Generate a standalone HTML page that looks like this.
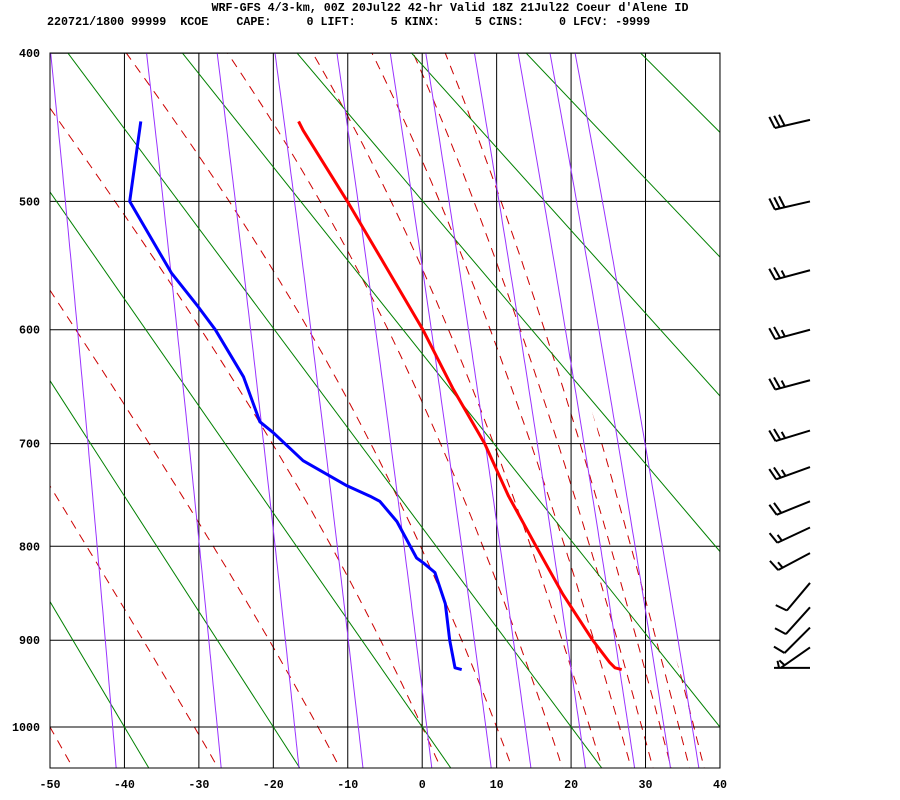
<!DOCTYPE html>
<html><head><meta charset="utf-8"><style>
html,body{margin:0;padding:0;background:#fff;}
svg{display:block;}
text{font-family:"Liberation Mono",monospace;font-weight:bold;font-size:11.7px;fill:#000;}
</style></head><body>
<svg id="chart" width="900" height="800" xmlns="http://www.w3.org/2000/svg">
<defs>
<clipPath id="plotclip"><rect x="50" y="53" width="670" height="715"/></clipPath>
<clipPath id="moistclip"><polygon points="50,53 470,53 720,789 720,768 50,768"/></clipPath>
</defs>
<text x="450" y="11" text-anchor="middle" xml:space="preserve">WRF-GFS 4/3-km, 00Z 20Jul22 42-hr Valid 18Z 21Jul22 Coeur d'Alene ID</text>
<text x="47" y="25" xml:space="preserve">220721/1800 99999  KCOE    CAPE:     0 LIFT:     5 KINX:     5 CINS:     0 LFCV: -9999</text>
<g id="plot" clip-path="url(#plotclip)">
<g id="moist" clip-path="url(#moistclip)"></g>
</g>
<g id="axes"></g>
<g id="barbs"></g>
</svg>
<script>
// ---- data ----
const pressureTicks = [400, 500, 600, 700, 800, 900, 1000];
const tempTicks = [-50, -40, -30, -20, -10, 0, 10, 20, 30, 40];
const tempP = [444, 450, 500, 550, 600, 650, 700, 750, 800, 850, 900, 925, 931, 933];
const tempT = [-16.6, -16.0, -10.05, -4.8, 0.1, 4.1, 8.4, 11.6, 15.3, 18.9, 22.9, 25.2, 25.9, 26.8];
const dewP = [444, 500, 554, 581, 600, 640, 680, 690, 716, 740, 750, 755, 775, 812, 817, 827, 860, 900, 931, 933];
const dewT = [-37.8, -39.3, -33.7, -30.1, -27.8, -24.0, -21.8, -20.0, -16.0, -10.1, -7.0, -5.7, -3.4, -0.75, 0.15, 1.7, 3.1, 3.7, 4.4, 5.3];
const barbP = [443, 500, 552, 600, 643, 688, 722, 755, 781, 807, 838, 864, 886, 908, 931];
const barbDir = [257, 257, 255, 255, 255, 253, 250, 248, 245, 242, 220, 222, 225, 235, 270];
const barbSpd = [30, 30, 25, 25, 25, 25, 25, 20, 15, 15, 10, 10, 10, 5, 5];
const dryTheta = [193.15, 213.15, 233.15, 253.15, 273.15, 293.15, 313.15, 333.15, 353.15, 373.15, 393.15, 413.15, 433.15, 453.15, 473.15];
const mixRatios = [0.1, 0.4, 1, 2, 4, 7, 10, 16, 24, 32, 40];
const moistT1000 = [-50, -30.6, -14, 0, 10, 17, 22.5, 26.5, 29.5, 32, 34.5, 36.5, 38.5];

// ---- scales ----
const K = 0.286;
const P0K = Math.pow(1000, K);
function xT(t){ return 50 + (t + 50) * 7.444; }
function yP(p){ return 727 - 405.3 * (P0K - Math.pow(p, K)); }
const NS = "http://www.w3.org/2000/svg";
const plot = document.getElementById('plot');
const moistG = document.getElementById('moist');
const axes = document.getElementById('axes');
const barbs = document.getElementById('barbs');
function mk(tag, attrs, parent){
  const e = document.createElementNS(NS, tag);
  for (const k in attrs) e.setAttribute(k, attrs[k]);
  parent.appendChild(e);
  return e;
}
function pathFrom(pts){ return pts.map((q,i)=>(i?'L':'M')+q[0].toFixed(1)+','+q[1].toFixed(1)).join(''); }
const pressRange = [];
for (let p = 1060; p >= 390; p -= 5) pressRange.push(p);

// isotherms
tempTicks.forEach(t => {
  const l = mk('line', {x1:xT(t), y1:53, x2:xT(t), y2:768, stroke:'#000', 'stroke-width':1}, plot);
  
  
});
// isobars
pressureTicks.forEach(p => {
  const l = mk('line', {x1:50, y1:yP(p), x2:720, y2:yP(p), stroke:'#000', 'stroke-width':1}, plot);
  
  
});
// dry adiabats
dryTheta.forEach(th => {
  const pts = [1060, 390].map(p => [xT(th * Math.pow(p/1000, K) - 273.15), yP(p)]);
  const l = mk('path', {d:pathFrom(pts), stroke:'#008000', 'stroke-width':1, fill:'none'}, plot);
  
  
});
// mixing ratio lines
mixRatios.forEach(w => {
  const pts = pressRange.map(p => {
    const e = w * p / (622 + w);
    const L = Math.log(e / 6.112);
    return [xT(243.5 * L / (17.67 - L)), yP(p)];
  });
  const l = mk('path', {d:pathFrom(pts), stroke:'#9933ff', 'stroke-width':1, fill:'none'}, plot);
  
  
});
// moist adiabats
function moistRate(p, T){
  const Rd=287.04, cp=1005.7, Lv=2.501e6, eps=0.622;
  const tc = T - 273.15;
  const es = 6.112 * Math.exp(17.67 * tc / (tc + 243.5));
  const rs = eps * es / (p - es);
  return (1/p) * (Rd*T + Lv*rs) / (cp + Lv*Lv*rs*eps/(Rd*T*T));
}
function integrate(T0, pStart, pEnd, step){
  const out = [];
  let T = T0, p = pStart;
  out.push([p, T]);
  while ((step < 0 && p > pEnd) || (step > 0 && p < pEnd)){
    const k1 = moistRate(p, T);
    const k2 = moistRate(p + step/2, T + k1*step/2);
    T += k2 * step; p += step;
    out.push([p, T]);
  }
  return out;
}
moistT1000.forEach(t0 => {
  const up = integrate(t0 + 273.15, 1000, 390, -5);
  const dn = integrate(t0 + 273.15, 1000, 1060, 5).reverse();
  const all = dn.concat(up.slice(1));
  const pts = all.map(q => [xT(q[1] - 273.15), yP(q[0])]);
  const l = mk('path', {d:pathFrom(pts), stroke:'#cc0000', 'stroke-width':1, fill:'none', 'stroke-dasharray':'9,7'}, moistG);
  
  
});
// profiles
const tLine = mk('path', {d:pathFrom(tempP.map((p,i)=>[xT(tempT[i]), yP(p)])), stroke:'#ff0000', 'stroke-width':3, fill:'none', 'stroke-linejoin':'round'}, plot);


const dLine = mk('path', {d:pathFrom(dewP.map((p,i)=>[xT(dewT[i]), yP(p)])), stroke:'#0000ff', 'stroke-width':3, fill:'none', 'stroke-linejoin':'round'}, plot);



// border
const border = mk('rect', {x:50, y:53, width:670, height:715, fill:'none', stroke:'#000', 'stroke-width':1}, axes);


// axis labels
pressureTicks.forEach(p => {
  const t = mk('text', {x:40, y:yP(p)+4, 'text-anchor':'end'}, axes);
  t.textContent = p;
  
  
});
tempTicks.forEach(tv => {
  const t = mk('text', {x:xT(tv), y:788, 'text-anchor':'middle'}, axes);
  t.textContent = tv;
  
  
});

// wind barbs
barbP.forEach((p, i) => {
  const d = barbDir[i] * Math.PI / 180;
  const ux = Math.sin(d), uy = -Math.cos(d);
  const ax = 810, ay = yP(p), L = 36;
  const bx = ax + ux*L, by = ay + uy*L;
  const px = -uy, py = ux;
  const g = mk('g', {}, barbs);
  
  
  mk('line', {x1:ax, y1:ay, x2:bx, y2:by, stroke:'#000', 'stroke-width':2}, g);
  let s = barbSpd[i], pos = 0;
  while (s >= 10){
    const sx = bx - ux*pos, sy = by - uy*pos;
    mk('line', {x1:sx, y1:sy, x2:sx + 12*px + 3*ux, y2:sy + 12*py + 3*uy, stroke:'#000', 'stroke-width':2}, g);
    s -= 10; pos += 5;
  }
  if (s >= 5){
    if (pos === 0) pos = 5;
    const sx = bx - ux*pos, sy = by - uy*pos;
    mk('line', {x1:sx, y1:sy, x2:sx + 7*px + 1.5*ux, y2:sy + 7*py + 1.5*uy, stroke:'#000', 'stroke-width':2}, g);
  }
});
</script>
</body></html>
